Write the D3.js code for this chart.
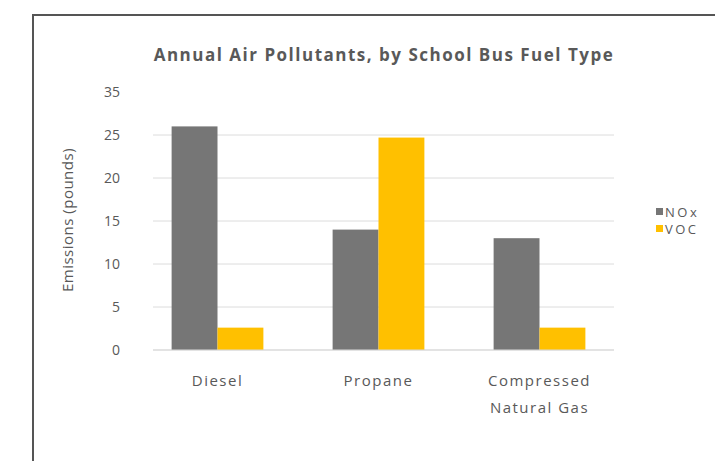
<!DOCTYPE html>
<html><head><meta charset="utf-8">
<script src="https://cdn.jsdelivr.net/npm/d3@7"></script>
<style>body{margin:0;background:#fff;}svg{display:block;}</style>
</head><body>
<script>
const categories = [["Diesel"], ["Propane"], ["Compressed", "Natural Gas"]];
const seriesNames = ["NOx", "VOC"];
const noxValues = [26, 14, 13];
const vocValues = [2.6, 24.7, 2.6];
const tickValues = [0, 5, 10, 15, 20, 25, 30];
const tickLabels = ["0", "5", "10", "15", "20", "25", "35"];
const gridValues = [0, 5, 10, 15, 20, 25];
const colors = ["#767676", "#FFC000"];

const W = 715, H = 461;
const svg = d3.select("body").append("svg").attr("width", W).attr("height", H);
const font = "'Open Sans', 'Liberation Sans', sans-serif";

// frame
svg.append("rect").attr("x", 33).attr("y", 15).attr("width", 720).attr("height", 480)
  .attr("fill", "none").attr("stroke", "#555").attr("stroke-width", 2);

const plot = {left: 137, right: 620, top: 92, bottom: 350};
const x0 = d3.scaleBand().domain(d3.range(categories.length)).range([plot.left, plot.right]).paddingInner(0.43).paddingOuter(0.215);
const x1 = d3.scaleBand().domain(seriesNames).range([0, x0.bandwidth()]);
const y = d3.scaleLinear().domain([0, 30]).range([plot.bottom, plot.top]);

// gridlines
svg.append("g").selectAll("line").data(gridValues).join("line")
  .attr("x1", 153).attr("x2", plot.right - 6)
  .attr("y1", d => y(d)).attr("y2", d => y(d))
  .attr("stroke", "#dcdcdc").attr("stroke-width", 1);

// y axis labels
const yAxis = d3.axisLeft(y).tickValues(tickValues).tickSize(0).tickPadding(0)
  .tickFormat((d, i) => tickLabels[i]);
const yg = svg.append("g").attr("transform", `translate(120,0)`).call(yAxis);
yg.select(".domain").remove();
yg.selectAll("text").attr("font-family", font).attr("font-size", 14).attr("fill", "#595959");

// bars
const rows = categories.map((c, i) => ({i, vals: [noxValues[i], vocValues[i]]}));
const grp = svg.append("g").selectAll("g").data(rows).join("g")
  .attr("transform", d => `translate(${x0(d.i)},0)`);
grp.selectAll("rect").data(d => d.vals.map((v, k) => ({v, k}))).join("rect")
  .attr("x", d => x1(seriesNames[d.k])).attr("width", x1.bandwidth())
  .attr("y", d => y(d.v)).attr("height", d => y(0) - y(d.v))
  .attr("fill", d => colors[d.k]);

// x axis
const xAxis = d3.axisBottom(x0).tickSize(0).tickFormat("");
const xg = svg.append("g").attr("transform", `translate(0,${plot.bottom})`).call(xAxis);
xg.select(".domain").attr("stroke", "#d9d9d9").attr("d", `M${153},0H${plot.right - 6}`);
xg.selectAll(".tick").each(function(d) {
  const t = d3.select(this).append("text").attr("fill", "#595959")
    .attr("font-family", font).attr("font-size", 15).attr("letter-spacing", 1.5)
    .attr("text-anchor", "middle");
  categories[d].forEach((line, j) => {
    t.append("tspan").attr("x", 0).attr("y", 36 + j * 27).text(line);
  });
});

// title
svg.append("text").attr("x", 384).attr("y", 61).attr("text-anchor", "middle")
  .attr("font-family", font).attr("font-weight", "bold").attr("font-size", 17)
  .attr("letter-spacing", 1.5)
  .attr("fill", "#595959").text("Annual Air Pollutants, by School Bus Fuel Type");

// y title
svg.append("text").attr("transform", "translate(73,220) rotate(-90)").attr("text-anchor", "middle")
  .attr("font-family", font).attr("font-size", 15).attr("letter-spacing", 0.5)
  .attr("fill", "#595959").text("Emissions (pounds)");

// legend
const lg = svg.append("g").selectAll("g").data(seriesNames).join("g")
  .attr("transform", (d, i) => `translate(656,${212 + i * 17})`);
lg.append("rect").attr("x", 0).attr("y", -4).attr("width", 7).attr("height", 7).attr("fill", (d, i) => colors[i]);
lg.append("text").attr("x", 9).attr("y", 4.5).attr("font-family", font).attr("font-size", 13)
  .attr("letter-spacing", 2.5)
  .attr("fill", "#595959").text(d => d);
</script>
</body></html>
